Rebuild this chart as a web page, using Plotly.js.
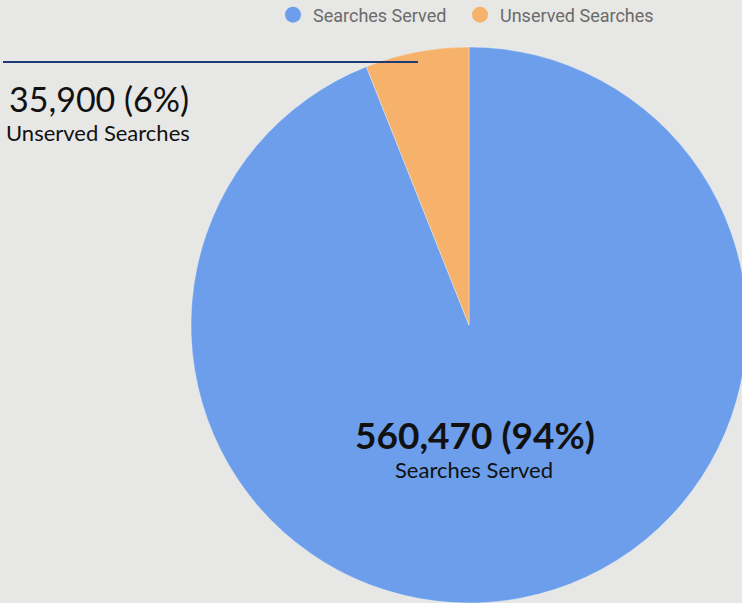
<!DOCTYPE html>
<html>
<head>
<meta charset="utf-8">
<script src="https://cdn.plot.ly/plotly-3.0.1.min.js"></script>
<style>
html,body{margin:0;padding:0;overflow:hidden;background:#e7e7e5;width:742px;height:603px;}
#chart{width:760px;height:620px;}
</style>
</head>
<body>
<div id="chart"></div>
<script>
const labels = ["Searches Served", "Unserved Searches"];
const values = [560470, 35900];
const colors = ["#6d9eeb", "#f6b26b"];

const W = 760, H = 620;
const total = values.reduce((a, b) => a + b, 0);
const fmt = v => v.toLocaleString("en-US");
const pct = v => Math.round(v / total * 100) + "%";

const px = x => x / W;
const py = y => 1 - y / H;

const legendIds = ["legend", "legend2"];
const legendX = [273, 460];

const traces = [{
  type: "pie",
  labels: labels,
  values: values,
  sort: false,
  direction: "clockwise",
  rotation: 0,
  marker: {colors: colors, line: {color: "#eef2f8", width: 0.4}},
  textinfo: "none",
  hoverinfo: "none",
  showlegend: false,
  domain: {x: [px(191), px(747)], y: [py(603), py(47)]}
}];
labels.forEach((l, i) => {
  traces.push({
    type: "scatter", mode: "markers", x: [null], y: [null], name: l,
    marker: {symbol: "circle", size: 16, color: colors[i]},
    showlegend: true, hoverinfo: "none", legend: legendIds[i]
  });
});

const layout = {
  width: W, height: H,
  margin: {l: 0, r: 0, t: 0, b: 0, autoexpand: false},
  paper_bgcolor: "#e7e7e5",
  plot_bgcolor: "rgba(0,0,0,0)",
  xaxis: {visible: false},
  yaxis: {visible: false},
  showlegend: true,
  shapes: [{
    type: "line", xref: "paper", yref: "paper",
    x0: px(3), x1: px(418), y0: py(62), y1: py(62),
    line: {color: "#1f3c78", width: 2}
  }],
  annotations: [
    {text: fmt(values[1]) + " (" + pct(values[1]) + ")", xref: "paper", yref: "paper",
     x: px(7), y: py(98), xanchor: "left", yanchor: "middle", showarrow: false,
     font: {family: "Lato", size: 34, color: "#111"}},
    {text: labels[1], xref: "paper", yref: "paper",
     x: px(4), y: py(132), xanchor: "left", yanchor: "middle", showarrow: false,
     font: {family: "Lato", size: 22, color: "#111"}},
    {text: "<b>" + fmt(values[0]) + " (" + pct(values[0]) + ")</b>", xref: "paper", yref: "paper",
     x: px(475), y: py(434), xanchor: "center", yanchor: "middle", showarrow: false,
     font: {family: "Lato", size: 37, color: "#111"}},
    {text: labels[0], xref: "paper", yref: "paper",
     x: px(474), y: py(469), xanchor: "center", yanchor: "middle", showarrow: false,
     font: {family: "Lato", size: 22, color: "#111"}}
  ]
};
legendIds.forEach((id, i) => {
  layout[id] = {
    orientation: "h",
    x: px(legendX[i]), xanchor: "left",
    y: py(15), yanchor: "middle",
    font: {family: "Roboto", size: 18, color: "#6b6b6b"},
    bgcolor: "rgba(0,0,0,0)",
    itemwidth: 30
  };
});

Plotly.newPlot("chart", traces, layout, {displayModeBar: false, staticPlot: true});
</script>
</body>
</html>
